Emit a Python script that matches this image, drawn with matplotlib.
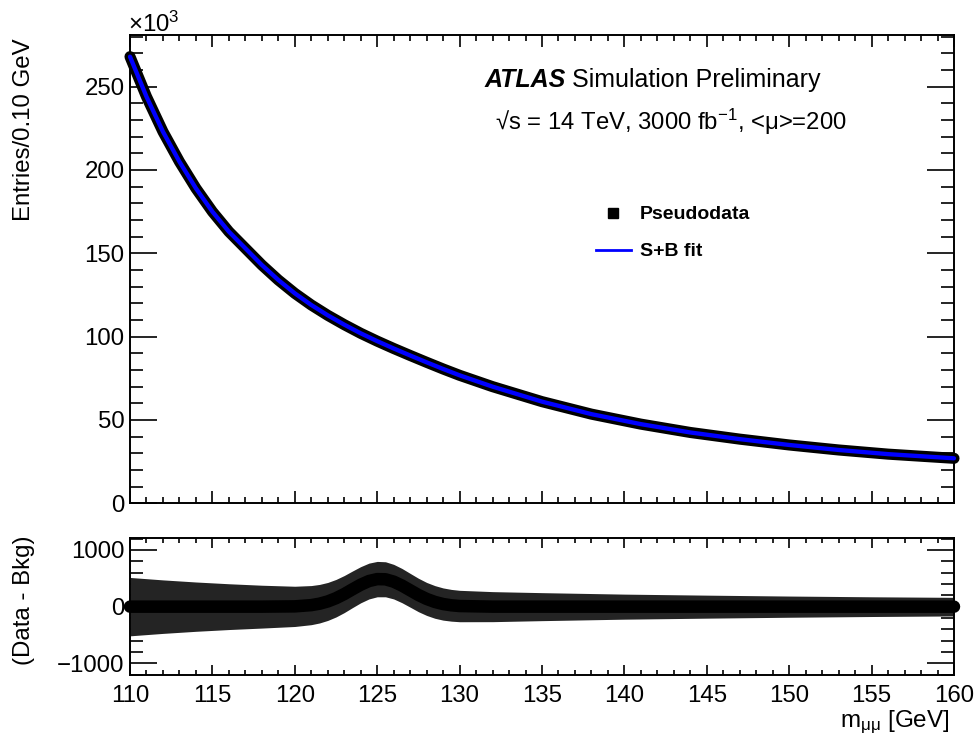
import numpy as np
import matplotlib.pyplot as plt
from matplotlib.lines import Line2D
from matplotlib.ticker import MultipleLocator

plt.rcParams['font.family'] = ['Liberation Sans', 'DejaVu Sans']
plt.rcParams['mathtext.fontset'] = 'custom'
plt.rcParams['mathtext.rm'] = 'Liberation Sans'
plt.rcParams['mathtext.it'] = 'Liberation Sans'
plt.rcParams['mathtext.bf'] = 'Liberation Sans:bold'

# upper panel: entries / 0.10 GeV, in units of 10^3
mass = [110, 111, 112, 113, 114, 115, 116, 117, 118, 119, 120, 121, 122, 123, 124, 125,
        126, 127, 128, 129, 130, 132, 135, 138, 141, 144, 147, 150, 153, 156, 160]
pseudodata = [268, 244, 223, 205, 189, 175, 163, 153, 143, 134, 126, 119, 112.8, 107.2, 102, 97.3,
              92.9, 88.7, 84.6, 80.6, 76.8, 70, 61, 53.5, 47.5, 42.5, 38.5, 35, 32, 29.5, 27]
sb_fit = [268, 244, 223, 205, 189, 175, 163, 153, 143, 134, 126, 119, 112.8, 107.2, 102, 97.3,
          92.9, 88.7, 84.6, 80.6, 76.8, 70, 61, 53.5, 47.5, 42.5, 38.5, 35, 32, 29.5, 27]

# lower panel: data - background, with stat. errors
res_mass = [110, 112, 114, 116, 118, 120, 121, 121.5, 122, 122.5, 123, 123.5, 124, 124.5,
            125, 125.5, 126, 126.5, 127, 127.5, 128, 128.5, 129, 129.5, 130, 132, 135,
            140, 145, 150, 155, 160]
data_minus_bkg = [0, 0, 0, 0, 0, 5, 27, 52, 92, 149, 222, 306, 387, 452,
                  486, 483, 441, 372, 289, 206, 136, 83, 46, 24, 11, 0, 0,
                  0, 0, 0, 0, 0]
stat_err = [515, 472, 435, 404, 378, 355, 345, 340, 335, 331, 327, 323, 319, 316,
            312, 309, 305, 302, 298, 295, 291, 288, 284, 280, 277, 265, 247,
            221, 203, 187, 174, 164]

W, H = 974, 747
fig = plt.figure(figsize=(W / 100, H / 100), dpi=100)
ax = fig.add_axes([130 / W, 1 - 503.3 / H, 824 / W, 468.3 / H])
ax2 = fig.add_axes([130 / W, 1 - 675 / H, 824 / W, 136.7 / H])

# upper panel
ax.plot(mass, pseudodata, color='black', lw=8, solid_capstyle='round', clip_on=False, zorder=3)
ax.plot(mass, sb_fit, color='#0000ff', lw=3.1, solid_capstyle='round', clip_on=False, zorder=4)
ax.set_xlim(110, 160)
ax.set_ylim(0, 281)

# lower panel
res = np.array(data_minus_bkg, dtype=float)
err = np.array(stat_err, dtype=float)
ax2.fill_between(res_mass, res - err, res + err, color='#242424', lw=0, zorder=2)
ax2.plot(res_mass, res, color='black', lw=9, solid_capstyle='round', clip_on=False, zorder=3)
ax2.set_xlim(110, 160)
ax2.set_ylim(-1206, 1206)

for a, xl in ((ax, 8.6), (ax2, 7.2)):
    a.xaxis.set_major_locator(MultipleLocator(5))
    a.xaxis.set_minor_locator(MultipleLocator(1))
    a.tick_params(which='both', direction='in', top=True, right=True, width=1.2,
                  labelsize=17.3, color='black')
    a.tick_params(axis='x', which='major', length=xl, pad=7)
    a.tick_params(axis='x', which='minor', length=xl / 2)
    a.tick_params(axis='y', which='major', length=19.4, pad=4)
    a.tick_params(axis='y', which='minor', length=9.4)
    for s in a.spines.values():
        s.set_linewidth(1.4)

ax.yaxis.set_major_locator(MultipleLocator(50))
ax.yaxis.set_minor_locator(MultipleLocator(10))
ax.tick_params(labelbottom=False)
ax2.yaxis.set_major_locator(MultipleLocator(1000))
ax2.yaxis.set_minor_locator(MultipleLocator(200))

# labels
fig.text(128 / W, 1 - 32 / H, '×10$^{3}$', fontsize=17.3, va='baseline')
fig.text(24 / W, 1 - 38 / H, 'Entries/0.10 GeV', rotation=90, ha='center', va='top', fontsize=17.3)
fig.text(24 / W, 1 - 600 / H, '(Data - Bkg)', rotation=90, ha='center', va='center', fontsize=17.3)
fig.text(950 / W, 1 - 727 / H, r'm$_{\mathrm{\mu\mu}}$ [GeV]', ha='right', va='baseline', fontsize=17.5)

fig.text(485 / W, 1 - 86.7 / H, 'ATLAS', fontsize=18, weight='bold', style='italic', va='baseline')
fig.text(572 / W, 1 - 86.7 / H, 'Simulation Preliminary', fontsize=18, va='baseline')
fig.text(495 / W, 1 - 130 / H, '√s = 14 TeV, 3000 fb$^{-1}$, <μ>=200', fontsize=17.2, va='baseline')

handles = [Line2D([], [], ls='none', marker='s', color='black', markersize=7),
           Line2D([], [], color='#0000ff', lw=2)]
ax.legend(handles, ['Pseudodata', 'S+B fit'], loc='upper left',
          bbox_to_anchor=(588 / W, 1 - 198 / H), bbox_transform=fig.transFigure,
          frameon=False, prop={'weight': 'bold', 'size': 14}, handlelength=1.8,
          handletextpad=0.45, labelspacing=1.0, borderaxespad=0)

fig.savefig('out.png', dpi=100)
